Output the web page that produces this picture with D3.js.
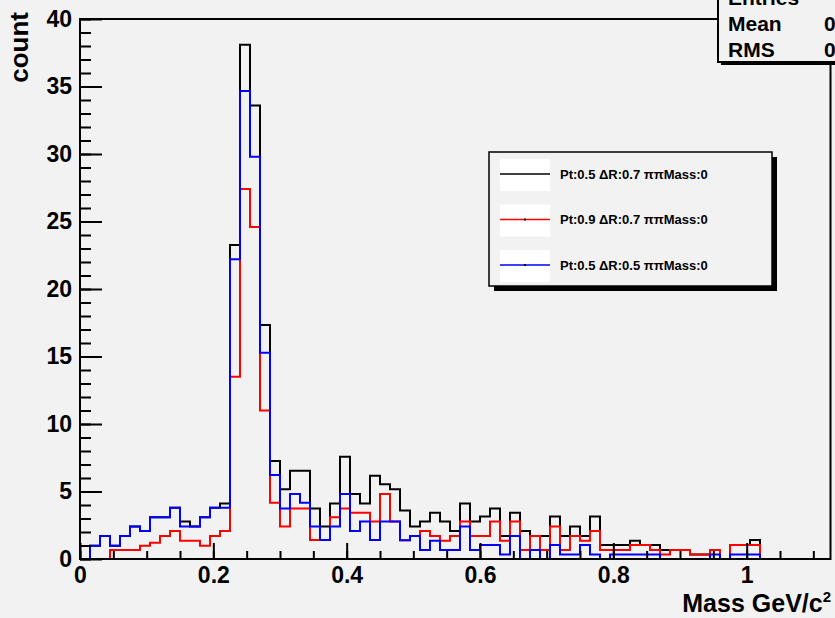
<!DOCTYPE html>
<html>
<head>
<meta charset="utf-8">
<script src="https://cdn.jsdelivr.net/npm/d3@7"></script>
<style>
  html, body { margin: 0; padding: 0; background: #f2f2f2; }
  svg { display: block; }
  text { font-family: "Liberation Sans", Arial, Helvetica, sans-serif; font-weight: bold; fill: #000; }
</style>
</head>
<body>
<script>
// ---- data ----
const binWidth = 0.015;
const nBins = 75;
const seriesNames = ["Pt:0.5 \u0394R:0.7 \u03c0\u03c0Mass:0", "Pt:0.9 \u0394R:0.7 \u03c0\u03c0Mass:0", "Pt:0.5 \u0394R:0.5 \u03c0\u03c0Mass:0"];
const seriesColors = ["#000000", "#ff0000", "#0000ff"];
const blackValues = [0, 0.99, 1.70, 0.99, 1.70, 2.40, 2.07, 3.09, 3.09, 3.80,
  2.77, 2.40, 3.09, 3.80, 4.12, 23.26, 38.1, 33.6, 17.33, 7.26,
  5.16, 6.54, 6.54, 3.75, 2.40, 4.12, 7.58, 4.81, 4.12, 6.17,
  5.53, 5.16, 3.6, 2.40, 2.77, 3.43, 2.77, 2.07, 4.12, 2.77,
  3.14, 3.75, 1.70, 3.43, 2.07, 1.70, 1.70, 3.14, 1.70, 2.40,
  1.70, 3.14, 1.04, 1.04, 1.04, 1.36, 1.04, 1.04, 0.67, 0.67,
  0.67, 0.34, 0.34, 0.67, 0, 1.04, 1.04, 1.40, 0, 0,
  0, 0, 0, 0, 0];
const redValues = [0, 0, 0, 0.67, 0.67, 0.67, 0.99, 1.2, 1.70, 2.07,
  1.36, 1.36, 0.99, 1.70, 2.07, 13.5, 27.4, 24.6, 11.0, 4.17,
  2.40, 3.75, 3.75, 1.41, 1.41, 3.09, 3.75, 3.43, 3.43, 2.77,
  4.81, 2.77, 1.38, 1.70, 2.07, 1.70, 1.36, 1.70, 2.77, 1.70,
  1.70, 2.77, 1.36, 2.77, 0.67, 1.70, 0.67, 2.40, 0.67, 1.70,
  1.36, 2.07, 0.67, 0.67, 0.67, 1.04, 1.04, 0.67, 0.34, 0.67,
  0.67, 0.34, 0.34, 0.67, 0, 1.04, 1.04, 1.04, 0, 0,
  0, 0, 0, 0, 0];
const blueValues = [0, 0.99, 1.70, 0.99, 1.70, 2.40, 2.07, 3.09, 3.09, 3.80,
  2.40, 2.40, 3.09, 3.80, 3.80, 22.2, 34.67, 29.8, 15.28, 6.22,
  3.75, 4.81, 4.17, 2.40, 1.41, 2.40, 4.81, 2.07, 2.77, 1.41,
  2.77, 2.77, 1.38, 1.70, 0.67, 1.36, 0.67, 0.67, 2.40, 0.67,
  1.04, 1.04, 0.34, 1.70, 0, 0.67, 0, 1.04, 0.34, 0.34,
  1.04, 0.34, 0, 0.34, 0.34, 0.34, 0.34, 0.34, 0, 0,
  0, 0, 0, 0.34, 0, 0.34, 0.34, 0.34, 0, 0,
  0, 0, 0, 0, 0];
const xTickValues = [0, 0.2, 0.4, 0.6, 0.8, 1.0];
const xTickLabels = ["0", "0.2", "0.4", "0.6", "0.8", "1"];
const yTickValues = [0, 5, 10, 15, 20, 25, 30, 35, 40];
const statsLabels = ["Entries", "Mean", "RMS"];
const statsValues = ["", "0", "0"];

// ---- drawing ----
const W = 835, H = 618;
const svg = d3.select("body").append("svg").attr("width", W).attr("height", H);
svg.append("rect").attr("width", W).attr("height", H).attr("fill", "#f2f2f2");

const x = d3.scaleLinear().domain([0, nBins * binWidth]).range([80, 830]);
const y = d3.scaleLinear().domain([0, 40]).range([559, 19]);

// histograms
const line = d3.line().x(d => x(d[0])).y(d => y(d[1])).curve(d3.curveStepAfter);
const allSeries = [blackValues, redValues, blueValues];
allSeries.forEach((vals, k) => {
  const pts = vals.map((v, i) => [i * binWidth, v]);
  pts.push([nBins * binWidth, vals[vals.length - 1]]);
  svg.append("path").attr("d", line(pts))
    .attr("fill", "none").attr("stroke", seriesColors[k]).attr("stroke-width", 2);
});

// axes
const xMinor = d3.axisBottom(x).tickValues(d3.range(0, 1.1251, 0.05)).tickSize(-8).tickFormat("");
const xMajor = d3.axisBottom(x).tickValues(xTickValues).tickSize(-16).tickPadding(8)
  .tickFormat((d, i) => xTickLabels[i]);
const gxm = svg.append("g").attr("transform", "translate(0,559)").call(xMinor);
const gx = svg.append("g").attr("transform", "translate(0,559)").call(xMajor);
const yMinor = d3.axisLeft(y).tickValues(d3.range(0, 40.01, 1)).tickSize(-11).tickFormat("");
const yMajor = d3.axisLeft(y).tickValues(yTickValues).tickSize(-22).tickPadding(8);
const gym = svg.append("g").attr("transform", "translate(80,0)").call(yMinor);
const gy = svg.append("g").attr("transform", "translate(80,0)").call(yMajor);
[gxm, gx, gym, gy].forEach(g => {
  g.selectAll(".domain").remove();
  g.selectAll("line").attr("stroke", "#000").attr("stroke-width", 2);
  g.selectAll("text").style("font-size", "23px").style("font-family", "'Liberation Sans', Arial, sans-serif").style("font-weight", "bold").attr("fill", "#000");
});

// frame
svg.append("line").attr("x1", 80).attr("x2", 80).attr("y1", 19).attr("y2", 560).attr("stroke", "#000").attr("stroke-width", 2);
svg.append("line").attr("x1", 79).attr("x2", 831).attr("y1", 559).attr("y2", 559).attr("stroke", "#000").attr("stroke-width", 2);
svg.append("line").attr("x1", 79).attr("x2", 831).attr("y1", 19).attr("y2", 19).attr("stroke", "#000").attr("stroke-width", 2);
svg.append("line").attr("x1", 830.5).attr("x2", 830.5).attr("y1", 19).attr("y2", 560).attr("stroke", "#000").attr("stroke-width", 2);

// axis titles
svg.append("text").attr("transform", "translate(28,12) rotate(-90)").attr("text-anchor", "end")
  .style("font-size", "26px").text("count");
const xt = svg.append("text").attr("x", 831).attr("y", 612).attr("text-anchor", "end").style("font-size", "25px");
xt.append("tspan").text("Mass GeV/c");
xt.append("tspan").attr("dy", -10).style("font-size", "15px").text("2");

// stats box
svg.append("rect").attr("x", 721).attr("y", -20).attr("width", 140).attr("height", 85).attr("fill", "#000");
svg.append("rect").attr("x", 718).attr("y", -20).attr("width", 140).attr("height", 82)
  .attr("fill", "#f2f2f2").attr("stroke", "#000").attr("stroke-width", 2);
statsLabels.forEach((s, i) => {
  svg.append("text").attr("x", 728).attr("y", 5 + 26 * i).style("font-size", "21px").text(s);
  if (statsValues[i]) svg.append("text").attr("x", 824).attr("y", 5 + 26 * i).style("font-size", "21px").text(statsValues[i]);
});

// legend
const lg = svg.append("g");
lg.append("rect").attr("x", 494).attr("y", 157).attr("width", 283).attr("height", 134).attr("fill", "#000");
lg.append("rect").attr("x", 489).attr("y", 152).attr("width", 283).attr("height", 134)
  .attr("fill", "#f2f2f2").attr("stroke", "#000").attr("stroke-width", 1.5);
seriesNames.forEach((name, i) => {
  const cy = 174 + i * 45.5;
  lg.append("rect").attr("x", 500).attr("y", cy - 15).attr("width", 50).attr("height", 32).attr("fill", "#fff");
  lg.append("line").attr("x1", 500).attr("x2", 550).attr("y1", cy).attr("y2", cy)
    .attr("stroke", seriesColors[i]).attr("stroke-width", 1.5);
  if (i > 0) lg.append("rect").attr("x", 524).attr("y", cy - 1).attr("width", 2).attr("height", 2).attr("fill", "#000");
  lg.append("text").attr("x", 560).attr("y", cy).attr("dy", "0.35em").style("font-size", "13px").text(name);
});
</script>
</body>
</html>
